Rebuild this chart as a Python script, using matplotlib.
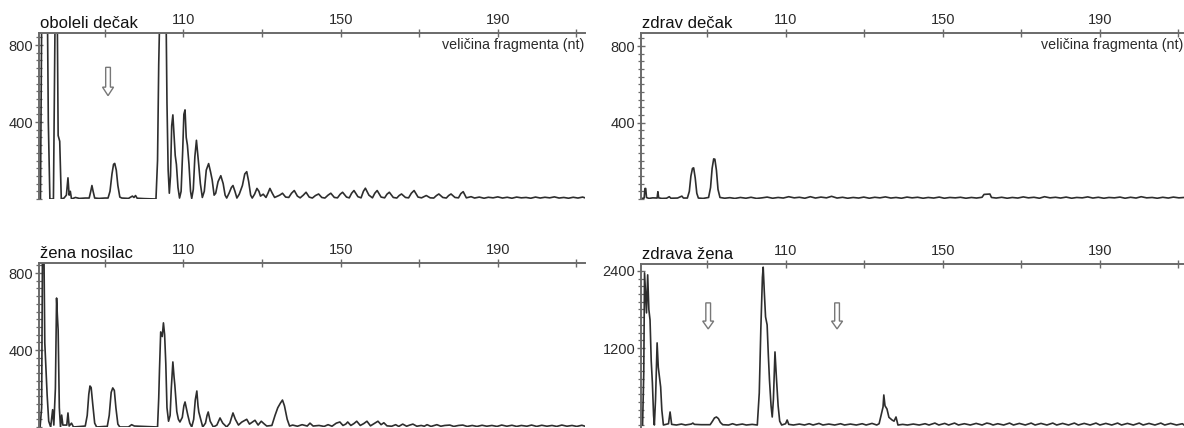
import numpy as np
import matplotlib
matplotlib.use("Agg")
import matplotlib.pyplot as plt
from matplotlib.patches import Polygon
from matplotlib.ticker import MultipleLocator

plt.rcParams['font.family'] = ['Liberation Sans', 'DejaVu Sans']

# fragment size ticks on the top axis
size_ticks = [90, 110, 130, 150, 170, 190, 210]
size_labels = ['', '110', '', '150', '', '190', '']
x_label = 'veličina fragmenta (nt)'

titles = ['oboleli dečak', 'zdrav dečak', 'žena nosilac', 'zdrava žena']

# trace vertices: (fragment size nt, signal)
obol_trace = [
    (73.1, 0), (73.6, 0), (73.9, 900), (75.4, 900), (75.6, 400), (76.0, 0), (76.9, 0), (77.3, 900),
    (77.9, 900), (78.1, 330), (78.5, 300), (78.9, 0), (79.6, 5), (80.2, 20), (80.6, 110), (80.9, 20),
    (81.2, 40), (81.5, 0), (82.5, 8), (83.5, 3), (85.0, 5), (86.0, 5), (86.4, 40), (86.7, 70),
    (87.0, 40), (87.4, 5), (88.5, 3), (90.0, 5), (90.8, 5), (91.3, 40), (91.8, 130), (92.2, 180),
    (92.5, 185), (92.9, 150), (93.3, 70), (93.8, 10), (94.3, 5),
    (96.0, 3), (97.0, 15), (97.4, 8), (97.8, 18), (98.2, 4), (100.0, 2), (103.0, 0), (103.4, 200),
    (103.7, 700), (103.9, 900), (105.6, 900), (105.8, 500), (106.1, 150), (106.4, 30), (106.7, 120),
    (107.0, 380), (107.3, 437), (107.6, 330), (107.9, 226), (108.2, 180), (108.6, 60), (109.0, 5),
    (109.4, 40), (109.8, 250), (110.1, 440), (110.4, 463), (110.7, 320), (111.0, 280), (111.4, 180),
    (111.8, 40), (112.1, 3), (112.5, 50), (112.9, 220), (113.3, 305), (113.6, 240), (113.9, 174),
    (114.3, 80), (114.8, 8), (115.3, 40), (115.8, 150), (116.4, 184), (116.9, 140), (117.3, 100),
    (117.8, 20), (118.2, 30), (118.8, 90), (119.5, 121), (120.1, 80), (120.6, 20), (121.0, 5),
    (121.6, 30), (122.2, 60), (122.6, 70), (123.1, 40), (123.6, 5), (124.2, 25), (125.0, 70),
    (125.6, 130), (126.1, 142), (126.6, 90), (127.1, 20), (127.5, 5), (128.1, 25), (128.7, 55),
    (129.2, 40), (129.6, 15), (130.3, 25), (131.0, 8), (131.5, 30), (132.0, 55), (132.6, 30),
    (133.2, 8), (134.5, 20), (135.2, 30),
    (136.0, 10), (136.8, 8), (137.5, 30), (138.2, 44), (139.0, 15), (139.7, 6), (140.5, 20),
    (141.2, 35), (142.0, 10), (142.8, 5), (143.6, 18), (144.4, 26), (145.2, 8), (146.0, 5),
    (146.8, 20), (147.5, 30), (148.4, 8), (149.2, 6), (149.9, 25), (150.5, 35), (151.5, 10),
    (152.2, 6), (152.8, 30), (153.4, 44), (154.4, 12), (155.2, 6), (155.8, 40), (156.3, 56),
    (157.2, 20), (158.1, 6), (158.7, 30), (159.3, 44), (160.3, 10), (161.2, 6), (161.8, 25),
    (162.4, 35), (163.4, 8), (164.3, 5), (164.9, 18), (165.5, 26), (166.5, 8), (167.3, 6),
    (168.0, 30), (168.7, 44), (169.7, 10), (170.6, 6), (171.2, 12), (171.8, 18), (172.8, 6),
    (173.7, 5), (174.4, 18), (175.0, 26), (176.0, 8), (176.9, 5), (177.5, 18), (178.1, 26),
    (179.1, 8), (180.0, 6), (180.6, 28), (181.2, 38), (182.0, 6), (183.2, 12), (184.1, 5),
    (185.3, 10), (186.5, 4), (187.6, 9), (188.8, 6), (190.0, 11), (191.2, 5), (192.4, 9),
    (193.6, 4), (194.8, 10), (196.0, 6), (197.2, 8), (198.4, 4), (199.6, 10), (200.8, 5),
    (202.0, 9), (203.2, 6), (204.4, 11), (205.6, 5), (206.8, 8), (208.0, 4), (209.2, 9),
    (210.4, 5), (211.6, 10), (212.2, 6),
]

zdrav_trace = [
    (73.2, 2), (74.0, 5), (74.2, 55), (74.4, 55), (74.6, 8), (75.2, 3), (76.2, 6), (77.3, 5),
    (77.5, 38), (77.7, 6), (78.5, 3), (79.7, 4), (80.4, 12), (80.8, 4), (82.5, 5), (83.6, 15),
    (84.0, 5), (85.0, 5), (85.5, 40), (85.9, 120), (86.3, 160), (86.6, 163), (87.0, 110),
    (87.4, 30), (87.8, 5), (89.0, 3), (90.4, 8), (90.9, 60), (91.3, 160), (91.7, 210), (92.0, 208),
    (92.4, 150), (92.8, 50), (93.3, 8), (94.5, 4), (95.8, 7), (97.1, 3), (98.5, 8), (99.9, 4), (101.2, 9),
    (102.6, 3), (104.0, 6), (105.3, 10), (106.7, 4), (108.1, 8), (109.4, 5), (110.8, 12),
    (112.2, 6), (113.5, 9), (114.9, 4), (116.3, 12), (117.6, 5), (119.0, 10), (120.4, 6),
    (121.7, 14), (123.1, 5), (124.5, 9), (125.8, 4), (127.2, 8), (128.6, 5), (129.9, 10),
    (131.3, 4), (132.7, 9), (134.0, 6), (135.4, 11), (136.8, 5), (138.1, 8), (139.5, 4),
    (140.9, 10), (142.2, 6), (143.6, 9), (145.0, 4), (146.3, 8), (147.7, 5), (149.1, 10),
    (150.4, 4), (151.8, 8), (153.2, 6), (154.5, 9), (155.9, 4), (157.3, 8), (158.6, 5),
    (160.0, 9), (160.5, 24), (162.0, 26), (162.4, 8), (163.6, 5), (165.0, 9), (166.4, 4),
    (167.7, 8), (169.1, 5), (170.5, 11), (171.8, 6), (173.2, 9), (174.6, 4), (175.9, 12),
    (177.3, 6), (178.7, 9), (180.0, 5), (181.4, 10), (182.8, 4), (184.1, 8), (185.5, 6),
    (186.9, 11), (188.2, 5), (189.6, 9), (191.0, 4), (192.3, 8), (193.7, 6), (195.1, 10),
    (196.4, 4), (197.8, 9), (199.2, 5), (200.5, 12), (201.9, 6), (203.3, 8), (204.6, 4),
    (206.0, 9), (207.4, 5), (208.7, 10), (210.1, 6), (211.4, 8),
]

nosilac_trace = [
    (73.1, 20), (73.5, 0), (73.9, 100), (74.1, 880), (74.5, 880), (74.7, 437), (75.0, 296),
    (75.3, 166), (75.7, 30), (76.2, 0), (76.7, 90), (77.0, 10), (77.4, 200), (77.7, 670),
    (77.9, 580), (78.1, 504), (78.4, 100), (78.7, 0), (79.0, 62), (79.3, 10), (80.3, 10),
    (80.6, 73), (80.9, 5), (81.5, 20), (82.0, 0), (84.0, 3), (85.0, 5), (85.5, 60), (85.9, 170),
    (86.2, 213), (86.5, 205), (86.9, 120), (87.4, 20), (87.9, 0), (90.0, 3), (90.6, 3), (91.1, 60),
    (91.6, 180), (92.0, 203), (92.4, 190), (92.8, 100), (93.3, 15), (93.8, 0),
    (96.0, 0), (96.8, 12), (97.5, 5), (100.0, 3), (103.4, 0),
    (103.7, 150), (103.9, 300), (104.2, 494), (104.6, 470), (104.9, 541), (105.2, 480), (105.5, 330),
    (105.8, 100), (106.2, 30), (106.6, 60), (106.9, 200), (107.3, 338), (107.6, 260), (107.8, 218),
    (108.3, 80), (108.7, 40), (109.1, 26), (109.7, 50), (110.1, 110), (110.4, 130), (110.8, 90),
    (111.1, 62), (111.6, 20), (112.1, 0), (112.6, 40), (113.0, 140), (113.4, 187), (113.7, 110),
    (113.9, 78), (114.4, 40), (114.9, 0), (115.6, 20), (116.0, 60), (116.3, 78), (116.8, 30),
    (117.6, 0), (118.5, 10), (119.3, 47), (120.0, 20), (121.0, 0), (121.8, 20), (122.6, 73), (123.2, 40), (124.0, 10),
    (124.8, 25), (126.1, 40), (126.8, 15), (127.5, 25), (128.2, 35), (129.0, 10), (129.8, 30),
    (130.6, 15), (131.2, 5), (132.5, 8), (133.3, 60), (134.0, 100), (134.7, 125), (135.2, 140),
    (135.7, 110), (136.4, 40), (137.0, 5), (137.8, 10), (139.0, 4), (140.2, 12), (141.5, 5),
    (142.2, 20), (143.0, 5), (144.5, 8), (145.8, 3), (146.8, 12), (147.8, 4), (148.9, 20),
    (149.8, 26), (150.6, 8), (151.3, 15), (151.8, 26), (152.6, 8), (153.4, 18), (154.1, 30),
    (155.0, 8), (155.9, 18), (156.7, 30), (157.6, 6), (158.7, 20), (159.5, 30), (160.3, 12),
    (161.0, 22), (161.8, 6), (163.0, 4), (164.0, 12), (164.8, 3), (165.8, 15), (166.8, 4),
    (167.6, 10), (168.4, 15), (169.4, 4), (170.5, 8), (171.3, 4), (172.0, 12), (173.0, 3),
    (174.5, 12), (175.5, 4), (176.5, 8), (177.8, 10), (178.8, 3), (180.0, 8), (181.1, 10),
    (182.2, 3), (183.5, 8), (184.7, 3), (186.0, 9), (187.2, 4), (188.5, 8), (189.8, 3),
    (191.0, 10), (192.3, 4), (193.6, 9), (194.8, 3), (196.0, 8), (197.4, 4), (198.6, 10),
    (199.9, 3), (201.2, 9), (202.5, 4), (203.8, 8), (205.0, 3), (206.3, 10), (207.6, 4),
    (208.9, 8), (210.1, 3), (211.4, 9), (212.2, 4),
]

zdrava_trace = [
    (73.2, 20), (73.6, 0), (73.9, 800), (74.1, 2371), (74.4, 2000), (74.6, 1747), (74.9, 2340),
    (75.2, 1800), (75.5, 1638), (75.8, 1000), (76.1, 655), (76.4, 150), (76.6, 0), (76.9, 400),
    (77.3, 1280), (77.6, 900), (77.9, 750), (78.2, 593), (78.5, 234), (78.9, 0), (80.2, 20),
    (80.6, 203), (81.0, 10), (82.2, 0), (83.5, 15), (84.5, 0), (86.0, 15), (86.4, 30), (86.8, 10),
    (88.5, 5), (90.8, 5), (91.4, 60), (91.9, 110), (92.4, 125), (92.9, 100), (93.4, 40), (94.0, 5),
    (95.5, 0), (96.5, 20), (97.5, 0), (99.0, 15), (100.0, 0), (101.5, 10), (102.8, 0), (103.3, 500),
    (103.7, 1500), (104.1, 2300), (104.3, 2460), (104.6, 2050), (104.9, 1685), (105.3, 1560),
    (105.6, 1100), (105.9, 700), (106.3, 300), (106.6, 125), (106.9, 400), (107.3, 1139),
    (107.7, 700), (108.1, 300), (108.5, 60), (109.0, 0), (110.0, 20), (110.4, 78), (110.8, 10),
    (112.0, 0), (113.5, 15), (114.8, 0), (116.0, 20), (117.0, 0), (118.5, 25), (119.5, 0),
    (121.0, 15), (122.5, 0), (124.0, 20), (125.0, 0), (126.5, 15), (128.0, 0), (129.5, 20),
    (130.5, 0), (132.0, 25), (133.2, 0), (133.8, 20), (134.3, 150), (134.8, 280), (135.0, 468),
    (135.3, 300), (135.8, 250), (136.3, 120), (137.1, 78), (137.6, 60), (138.1, 125), (138.6, 0),
    (139.8, 10), (141.0, 0), (142.5, 15), (144.0, 0), (145.5, 20), (146.5, 0), (148.0, 30),
    (149.0, 0), (150.5, 25), (151.5, 0), (153.0, 30), (154.0, 0), (155.5, 20), (157.0, 0),
    (158.5, 25), (160.0, 0), (161.2, 30), (162.0, 20), (162.8, 0), (164.0, 20), (165.5, 0),
    (167.0, 30), (168.0, 0), (169.5, 25), (171.0, 0), (172.5, 30), (173.5, 0), (175.0, 25),
    (176.5, 0), (178.0, 30), (179.0, 0), (180.5, 25), (182.0, 0), (183.5, 30), (184.5, 0),
    (186.0, 25), (187.5, 0), (189.0, 30), (190.0, 0), (191.5, 25), (193.0, 0), (194.5, 30),
    (195.5, 0), (197.0, 25), (198.5, 0), (200.0, 30), (201.0, 0), (202.5, 25), (204.0, 0),
    (205.5, 30), (206.5, 0), (208.0, 25), (209.5, 0), (211.0, 20), (211.4, 0),
]

# arrows marking missing peaks: (nt, top, tip)
obol_arrows = [(90.8, 684, 537)]
zdrava_arrows = [(90.3, 1903, 1498), (123.1, 1903, 1498)]

GRAY = '#6a6a6a'
TXT = '#2b2b2b'


def draw_arrow(ax, x, top, tip):
    head = tip + (top - tip) * 0.3
    pts = [(x - 0.6, top), (x + 0.6, top), (x + 0.6, head), (x + 1.4, head),
           (x, tip), (x - 1.4, head), (x - 0.6, head)]
    ax.add_patch(Polygon(pts, closed=True, facecolor='white', edgecolor='#777777', lw=1.0))


def panel(rect, trace, title, xlim, ylim, yticks, minor, arrows, show_label):
    ax = fig.add_axes(rect)
    nt = [p[0] for p in trace]
    sig = [p[1] for p in trace]
    ax.plot(nt, sig, color='#2e2e2e', lw=1.2)
    for a in arrows:
        draw_arrow(ax, *a)
    ax.set_xlim(*xlim)
    ax.set_ylim(*ylim)
    for s in ['right', 'bottom']:
        ax.spines[s].set_visible(False)
    for s in ['top', 'left']:
        ax.spines[s].set_color(GRAY)
        ax.spines[s].set_linewidth(1.4)
    ax.xaxis.tick_top()
    ax.set_xticks(size_ticks)
    ax.set_xticklabels(size_labels)
    ax.set_yticks(yticks)
    ax.yaxis.set_minor_locator(MultipleLocator(minor))
    ax.tick_params(axis='x', direction='inout', length=6, width=1, color=GRAY,
                   labelsize=10.5, labelcolor=TXT, pad=1)
    ax.tick_params(axis='y', which='major', direction='inout', length=6, width=1,
                   color=GRAY, labelsize=10.5, labelcolor=TXT, pad=1)
    ax.tick_params(axis='y', which='minor', direction='inout', length=5, width=0.9, color=GRAY)
    ax.annotate(title, xy=(0, 1), xycoords='axes fraction', xytext=(1, 5),
                textcoords='offset pixels', ha='left', va='baseline', fontsize=12, color='#111')
    if show_label:
        ax.annotate(x_label, xy=(1, 1), xycoords='axes fraction', xytext=(-1, -5),
                    textcoords='offset pixels', ha='right', va='top', fontsize=10.3, color=TXT)
    return ax


W, H = 1184, 428
fig = plt.figure(figsize=(W / 100, H / 100), dpi=100)


def rect(x0, x1, y0, y1):
    return [x0 / W, 1 - y1 / H, (x1 - x0) / W, (y1 - y0) / H]


panel(rect(38.5, 585, 32.5, 199), obol_trace, titles[0], (73.1, 212.2), (0, 865),
      [400, 800], 40, obol_arrows, True)
panel(rect(641, 1184, 32.5, 199), zdrav_trace, titles[1], (73.2, 211.4), (0, 871),
      [400, 800], 40, [], True)
panel(rect(38.5, 585, 263, 427), nosilac_trace, titles[2], (73.1, 212.2), (0, 852),
      [400, 800], 40, [], False)
panel(rect(641, 1184, 264, 427), zdrava_trace, titles[3], (73.2, 211.4), (-31, 2509),
      [1200, 2400], 120, zdrava_arrows, False)

fig.savefig('out.png', dpi=100)
